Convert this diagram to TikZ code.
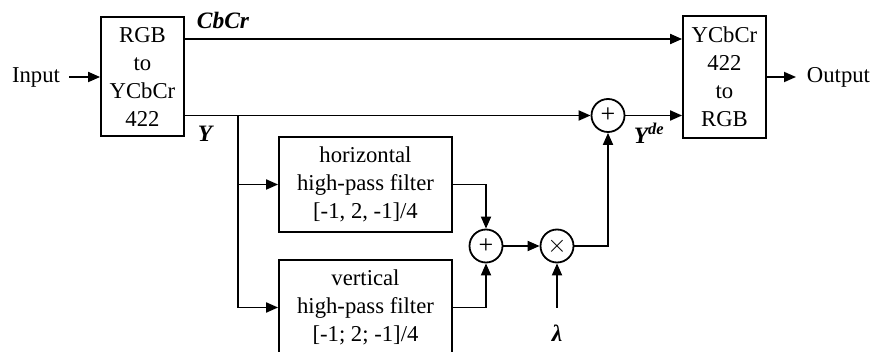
\documentclass[tikz,border=0pt]{standalone}
\usepackage{fontspec}
\setmainfont{Liberation Serif}
\usetikzlibrary{arrows.meta}
\begin{document}
\begin{tikzpicture}[x=1pt,y=-1pt,
  line width=1.8pt,
  >={Triangle[length=12pt,width=10pt]},
  every node/.style={font=\fontsize{22.7}{28}\selectfont, inner sep=0pt},
  block/.style={draw, rectangle, align=center},
  junction/.style={draw, circle, minimum size=33pt, font=\fontsize{26}{26}\selectfont},
  sig/.style={font=\fontsize{23.5}{28}\selectfont\bfseries\itshape}
]
\useasboundingbox (0,0) rectangle (875,352);

% converter blocks
\node[block, minimum width=83pt, minimum height=119pt] (rgb2y) at (142.5,76.5) {RGB\\to\\YCbCr\\422};
\node[block, minimum width=83pt, minimum height=122pt] (y2rgb) at (724.5,77) {YCbCr\\422\\to\\RGB};

% high-pass filters
\node[block, minimum width=173pt, minimum height=95pt] (hpf) at (365.5,184.5) {horizontal\\high-pass filter\\{}[-1, 2, -1]/4};
\node[block, minimum width=173pt, minimum height=95pt] (vpf) at (365.5,307.5) {vertical\\high-pass filter\\{}[-1; 2; -1]/4};

% summing / multiplying junctions
\node[junction] (sum) at (486,246) {+};
\node[junction] (mul) at (557,246) {$\times$};
\node[junction] (add) at (608,115.5) {+};

% terminals and helper points
\node (in) at (36,77) {Input};
\coordinate (inend) at (69,77);
\node (out) at (838.5,77) {Output};
\coordinate (outend) at (796,77);
\coordinate (cbrow) at (0,39);
\coordinate (yrow) at (0,115.5);
\coordinate (br) at (238,115.5);
\coordinate (lam) at (557,308);

% signal labels
\node[sig] (lcbcr) at (223,20) {CbCr};
\node[sig] (ly) at (205,134) {Y};
\node[sig] (lyde) at (649,133) {Y\textsuperscript{de}};
\node[sig] (llam) at (557,333) {λ};

% connections
\draw[->] (inend) -- (rgb2y.west |- inend);
\draw[->] (rgb2y.east |- cbrow) -- (y2rgb.west |- cbrow);
\draw[->] (rgb2y.east |- yrow) -- (add.west);
\draw[->] (br) |- (hpf.west);
\draw[->] (br) |- (vpf.west);
\draw[->] (hpf.east) -| (sum.north);
\draw[->] (vpf.east) -| (sum.south);
\draw[->] (sum) -- (mul);
\draw[->] (mul.east) -| (add.south);
\draw[->] (lam) -- (mul.south);
\draw[->] (add.east) -- (y2rgb.west |- add);
\draw[->] (y2rgb.east |- outend) -- (outend);
\end{tikzpicture}
\end{document}
